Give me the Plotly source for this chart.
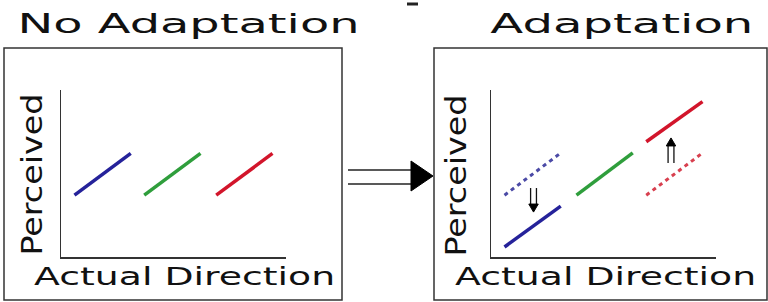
import plotly.graph_objects as go

# ---------------- data ----------------
panel_titles = ["No Adaptation", "Adaptation"]
x_label = "Actual Direction"
y_label = "Perceived"

# left panel (no adaptation): actual direction spans and perceived values
blue_x = [6, 31]
green_x = [37, 62]
red_x = [69, 94]
perceived_base = [37, 62]

# right panel (adaptation)
blue_x_r = [6, 31]
green_x_r = [38, 63]
red_x_r = [69, 94]
perceived_before = [37, 62.3]
blue_adapted = [6, 30.5]
red_adapted = [69, 93]

# shift arrows in the right panel: x, start y, end y
arrow_x = [18.9, 80.0]
arrow_from = [41.3, 56.3]
arrow_to = [26.9, 71.3]

BLUE = "#25229a"
GREEN = "#2f9e3c"
RED = "#d2152b"
BLUE_DOT = "#4b4aa6"
RED_DOT = "#d8404f"

W, H = 768, 302


def px(x):
    return x / W


def py(y):
    return 1 - y / H


fig = go.Figure()


def add_line(x, y, color, xa, ya, dash=None, width=3.5):
    fig.add_trace(go.Scatter(
        x=x, y=y, mode="lines", xaxis=xa, yaxis=ya,
        line=dict(color=color, width=width, dash=dash) if dash else dict(color=color, width=width),
        hoverinfo="skip", showlegend=False))


# left panel
add_line(blue_x, perceived_base, BLUE, "x", "y")
add_line(green_x, perceived_base, GREEN, "x", "y")
add_line(red_x, perceived_base, RED, "x", "y")

# right panel
add_line(blue_x_r, perceived_before, BLUE_DOT, "x2", "y2", dash="4px,4px", width=3)
add_line(red_x_r, perceived_before, RED_DOT, "x2", "y2", dash="4px,4px", width=3)
add_line(blue_x_r, blue_adapted, BLUE, "x2", "y2")
add_line(green_x_r, perceived_before, GREEN, "x2", "y2")
add_line(red_x_r, red_adapted, RED, "x2", "y2")

axis_common = dict(range=[0, 100], showgrid=False, zeroline=False, showticklabels=False,
                   ticks="", showline=True, linecolor="#333", linewidth=1.5, fixedrange=True)

fig.update_layout(
    width=W, height=H, autosize=False,
    margin=dict(l=0, r=0, t=0, b=0),
    paper_bgcolor="white", plot_bgcolor="white",
    xaxis=dict(domain=[px(61), px(286)], anchor="y", **axis_common),
    yaxis=dict(domain=[py(257), py(90)], anchor="x", **axis_common),
    xaxis2=dict(domain=[px(491), px(716)], anchor="y2", **axis_common),
    yaxis2=dict(domain=[py(257), py(90)], anchor="x2", **axis_common),
)

shapes = []
# panel frames
for x0, x1 in [(4, 342), (434, 767)]:
    shapes.append(dict(type="rect", xref="paper", yref="paper",
                       x0=px(x0), x1=px(x1), y0=py(300), y1=py(48),
                       line=dict(color="#333", width=1.5), fillcolor="rgba(0,0,0,0)"))
# double-shaft arrow between panels
for yy in [170, 184]:
    shapes.append(dict(type="line", xref="paper", yref="paper",
                       x0=px(348), x1=px(412), y0=py(yy), y1=py(yy),
                       line=dict(color="#222", width=1.5)))
shapes.append(dict(type="path", xref="paper", yref="paper",
                   path=f"M {px(411)},{py(161)} L {px(411)},{py(191)} L {px(433)},{py(176)} Z",
                   fillcolor="black", line=dict(color="black", width=1)))
# small dash at the top
shapes.append(dict(type="line", xref="paper", yref="paper",
                   x0=px(407), x1=px(418), y0=py(4), y1=py(4),
                   line=dict(color="#222", width=3)))

# shift arrows (double shaft, filled head)
half_shaft = 1.3
half_head = 2.1
head_len = 4.8
for ax, a0, a1 in zip(arrow_x, arrow_from, arrow_to):
    sgn = 1 if a1 > a0 else -1
    base = a1 - sgn * head_len
    for dx in (-half_shaft, half_shaft):
        shapes.append(dict(type="line", xref="x2", yref="y2",
                           x0=ax + dx, x1=ax + dx, y0=a0, y1=base,
                           line=dict(color="#111", width=1.3)))
    shapes.append(dict(type="path", xref="x2", yref="y2",
                       path=f"M {ax - half_head},{base} L {ax + half_head},{base} L {ax},{a1} Z",
                       fillcolor="black", line=dict(color="black", width=1)))
fig.update_layout(shapes=shapes)

FONT = "DejaVu Sans"
ann = []
target_len = []


def add_text(text, cx, cy, size, length, angle=0):
    ann.append(dict(text=text, xref="paper", yref="paper", x=px(cx), y=py(cy),
                    xanchor="center", yanchor="middle", showarrow=False,
                    textangle=angle, font=dict(family=FONT, size=size, color="#111")))
    target_len.append(length)


add_text(panel_titles[0], 188.5, 23.3, 27, 342)
add_text(panel_titles[1], 622, 23.3, 27, 263)
add_text(x_label, 184, 276.3, 25, 301)
add_text(x_label, 605, 276.3, 25, 301)
add_text(y_label, 32, 175, 29, 162, angle=-90)
add_text(y_label, 456, 176, 29, 162, angle=-90)
fig.update_layout(annotations=ann)

post = """
document.documentElement.style.margin = '0';
document.documentElement.style.padding = '0';
document.body.style.margin = '0';
document.body.style.padding = '0';
document.body.style.overflow = 'hidden';
var gd = document.getElementById('{plot_id}');
var L = %s;
function fitText(){
  var groups = gd.querySelectorAll('g.annotation');
  groups.forEach(function(g){
    var idx = +g.getAttribute('data-index');
    var t = g.querySelector('text.annotation-text');
    if (t && L[idx]) {
      t.setAttribute('textLength', L[idx]);
      t.setAttribute('lengthAdjust', 'spacingAndGlyphs');
    }
  });
}
fitText();
gd.on('plotly_afterplot', fitText);
""" % str(target_len)

fig.write_html("out.html", post_script=post, config={"displayModeBar": False, "staticPlot": True})
